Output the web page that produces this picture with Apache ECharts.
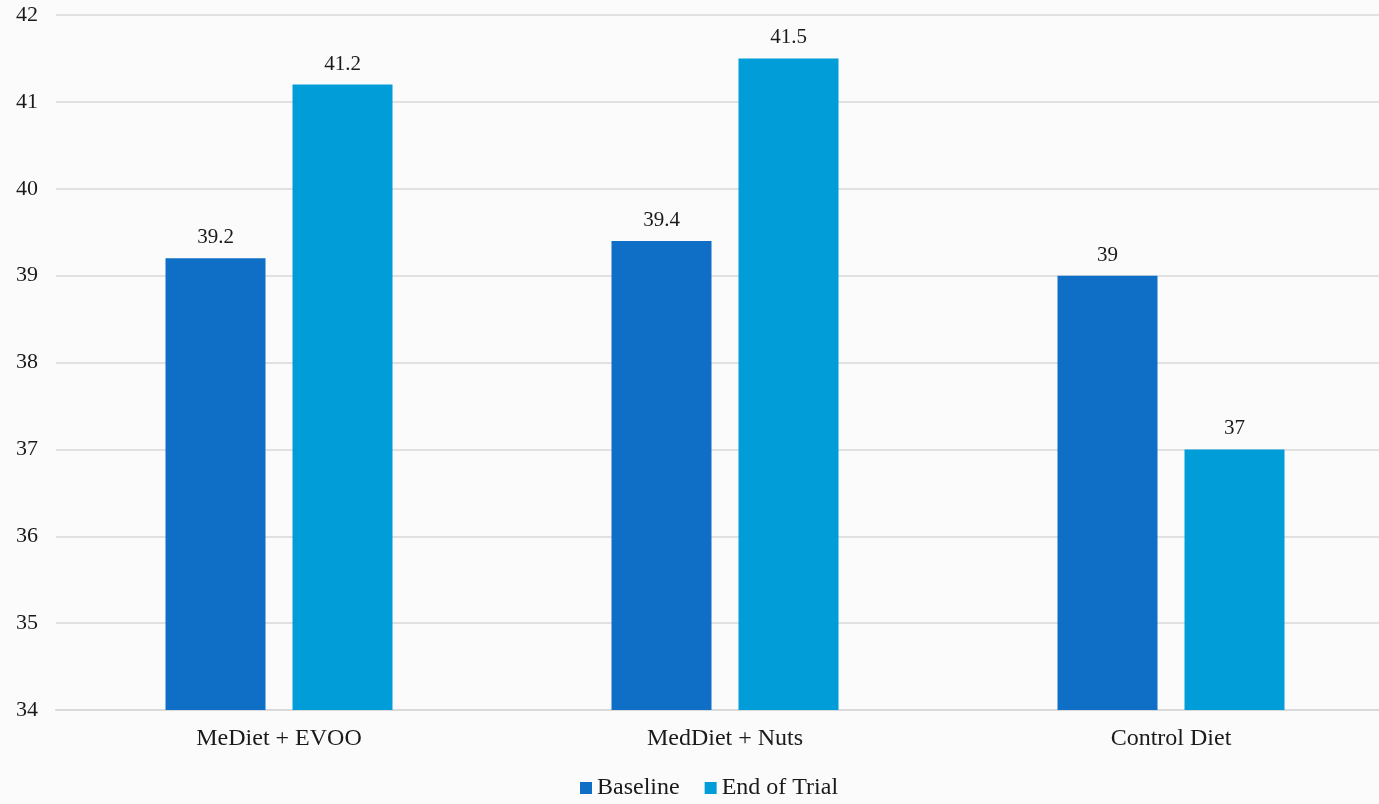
<!DOCTYPE html>
<html>
<head>
<meta charset="utf-8">
<script src="https://cdn.jsdelivr.net/npm/echarts@6/dist/echarts.min.js"></script>
<style>
  html, body { margin: 0; padding: 0; background: #fbfbfb; }
  #chart { width: 1379px; height: 804px; }
</style>
</head>
<body>
<div id="chart"></div>
<script>
const categories = ['MeDiet + EVOO', 'MedDiet + Nuts', 'Control Diet'];
const baseline = [39.2, 39.4, 39];
const endOfTrial = [41.2, 41.5, 37];
const seriesNames = ['Baseline', 'End of Trial'];
const yMin = 34, yMax = 42, yStep = 1;

const FONT = '"Liberation Serif", "DejaVu Serif", serif';
const chart = echarts.init(document.getElementById('chart'));

const labelStyle = {
  show: true,
  position: 'top',
  distance: 10,
  color: '#1a1a1a',
  fontFamily: FONT,
  fontSize: 21
};

chart.setOption({
  backgroundColor: '#fbfbfb',
  animation: false,
  grid: { left: 56, width: 1338, top: 15, height: 695, outerBoundsMode: 'none', containLabel: false },
  legend: {
    top: 771,
    left: 575,
    itemWidth: 12,
    itemHeight: 12,
    itemGap: 25,
    icon: 'rect',
    textStyle: { fontFamily: FONT, fontSize: 24, color: '#1a1a1a' },
    data: seriesNames
  },
  xAxis: {
    type: 'category',
    data: categories,
    axisLine: { show: true, lineStyle: { color: '#d9d9d9', width: 2 } },
    axisTick: { show: false },
    axisLabel: { fontFamily: FONT, fontSize: 24, color: '#1a1a1a', margin: 17 }
  },
  yAxis: {
    type: 'value',
    min: yMin,
    max: yMax,
    interval: yStep,
    axisLine: { show: false },
    axisTick: { show: false },
    axisLabel: { fontFamily: FONT, fontSize: 22, color: '#1a1a1a', margin: 18 },
    splitLine: { lineStyle: { color: '#d9d9d9', width: 1.5 } }
  },
  series: [
    {
      name: seriesNames[0],
      type: 'bar',
      data: baseline,
      barWidth: 100,
      barGap: '27%',
      itemStyle: { color: '#0F6FC6' },
      label: labelStyle
    },
    {
      name: seriesNames[1],
      type: 'bar',
      data: endOfTrial,
      barWidth: 100,
      barGap: '27%',
      itemStyle: { color: '#009DD9' },
      label: labelStyle
    }
  ]
});
</script>
</body>
</html>
